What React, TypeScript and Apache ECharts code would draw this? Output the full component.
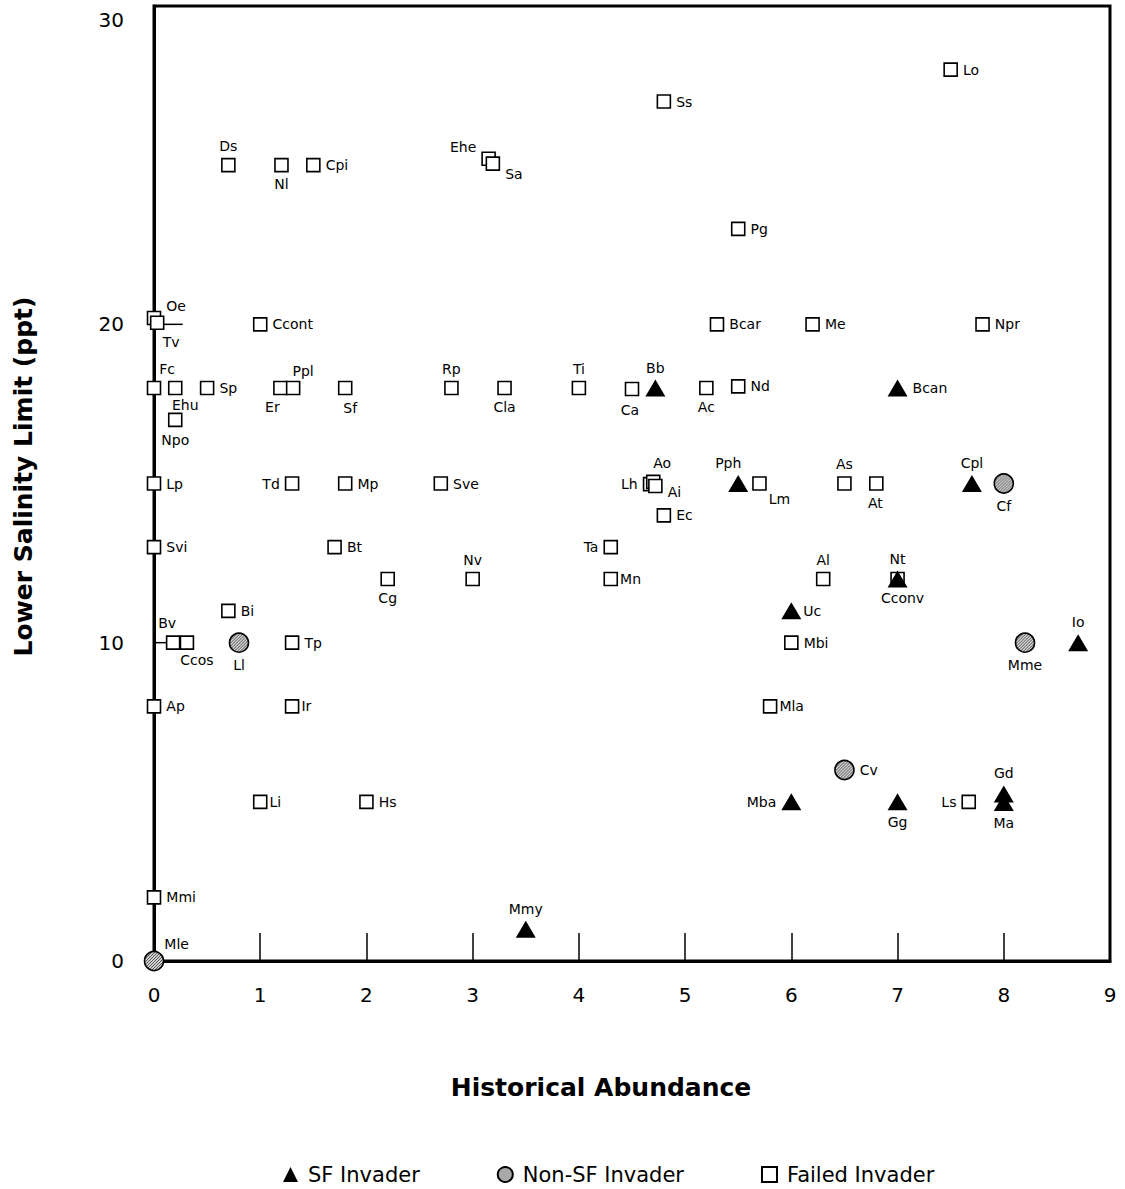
import React, { useEffect, useRef } from "react";
import * as echarts from "echarts";

// [name, historical abundance, lower salinity limit]
const sfInvaders: [string, number, number][] = [
  ["Bb", 4.72, 18],
  ["Bcan", 7.0, 18],
  ["Pph", 5.5, 15],
  ["Cpl", 7.7, 15],
  ["Nt", 7.0, 12],
  ["Uc", 6.0, 11],
  ["Io", 8.7, 10],
  ["Mba", 6.0, 5],
  ["Gg", 7.0, 5],
  ["Gd", 8.0, 5.25],
  ["Ma", 8.0, 4.98],
  ["Mmy", 3.5, 1.0],
];

const nonSfInvaders: [string, number, number][] = [
  ["Cf", 8.0, 15],
  ["Ll", 0.8, 10],
  ["Mme", 8.2, 10],
  ["Cv", 6.5, 6],
  ["Mle", 0, 0],
];

const failedInvaders: [string, number, number][] = [
  ["Lo", 7.5, 28],
  ["Ss", 4.8, 27],
  ["Ds", 0.7, 25],
  ["Nl", 1.2, 25],
  ["Cpi", 1.5, 25],
  ["Ehe", 3.15, 25.2],
  ["Sa", 3.19, 25.05],
  ["Pg", 5.5, 23],
  ["Oe", 0, 20.2],
  ["Tv", 0.03, 20.05],
  ["Ccont", 1.0, 20],
  ["Bcar", 5.3, 20],
  ["Me", 6.2, 20],
  ["Npr", 7.8, 20],
  ["Fc", 0, 18],
  ["Ehu", 0.2, 18],
  ["Sp", 0.5, 18],
  ["Er", 1.19, 18],
  ["Ppl", 1.31, 18],
  ["Sf", 1.8, 18],
  ["Rp", 2.8, 18],
  ["Cla", 3.3, 18],
  ["Ti", 4.0, 18],
  ["Ca", 4.5, 17.97],
  ["Ac", 5.2, 18],
  ["Nd", 5.5, 18.05],
  ["Npo", 0.2, 17],
  ["Lp", 0, 15],
  ["Td", 1.3, 15],
  ["Mp", 1.8, 15],
  ["Sve", 2.7, 15],
  ["Lh", 4.67, 14.98],
  ["Ao", 4.7, 15.05],
  ["Ai", 4.72, 14.92],
  ["Ec", 4.8, 14],
  ["Lm", 5.7, 15],
  ["As", 6.5, 15],
  ["At", 6.8, 15],
  ["Svi", 0, 13],
  ["Bt", 1.7, 13],
  ["Ta", 4.3, 13],
  ["Cg", 2.2, 12],
  ["Nv", 3.0, 12],
  ["Mn", 4.3, 12],
  ["Al", 6.3, 12],
  ["Cconv", 7.0, 12],
  ["Bi", 0.7, 11],
  ["Bv", 0.18, 10],
  ["Ccos", 0.31, 10],
  ["Tp", 1.3, 10],
  ["Mbi", 6.0, 10],
  ["Ap", 0, 8],
  ["Ir", 1.3, 8],
  ["Mla", 5.8, 8],
  ["Li", 1.0, 5],
  ["Hs", 2.0, 5],
  ["Ls", 7.67, 5],
  ["Mmi", 0, 2],
];

// short leader lines from the y axis
const leaderLines: [number, number][][] = [
  [[0, 20], [0.27, 20]],
  [[0, 10], [0.27, 10]],
];

const xTickRange = { min: 0, max: 9, interval: 1 };
const yTickRange = { min: 0, max: 30, interval: 10 };

// label placement per point: [position, dx, dy]
const labelPlacement: Record<string, [string, number, number]> = {
  Ds: ["top", 0, 0],
  Nl: ["bottom", 0, 0],
  Ehe: ["left", 0, -12],
  Sa: ["right", 0, 10],
  Oe: ["right", 0, -12],
  Tv: ["bottom", 14, 0],
  Fc: ["top", 13, 0],
  Ehu: ["bottom", 10, -2],
  Er: ["bottom", -8, 0],
  Ppl: ["top", 10, 2],
  Sf: ["bottom", 5, 1],
  Rp: ["top", 0, 0],
  Cla: ["bottom", 0, 0],
  Ti: ["top", 0, 0],
  Ca: ["bottom", -2, 2],
  Ac: ["bottom", 0, 0],
  Npo: ["bottom", 0, 1],
  Td: ["left", 0, 0],
  Lh: ["left", 0, 0],
  Ao: ["top", 9, 0],
  Ai: ["right", 0, 6],
  Lm: ["right", -3, 15],
  As: ["top", 0, 0],
  At: ["bottom", -1, 0],
  Ta: ["left", 0, 0],
  Cg: ["bottom", 0, 0],
  Nv: ["top", 0, 0],
  Mn: ["right", -3, 0],
  Al: ["top", 0, 0],
  Cconv: ["bottom", 5, 0],
  Bv: ["top", -6, 0],
  Ccos: ["bottom", 10, -2],
  Ir: ["right", -3, 0],
  Mla: ["right", -3, 0],
  Li: ["right", -3, 0],
  Ls: ["left", 0, 0],
  Bb: ["top", 0, 0],
  Pph: ["top", -10, 0],
  Cpl: ["top", 0, 0],
  Nt: ["top", 0, 0],
  Uc: ["right", -3, 0],
  Io: ["top", 0, 0],
  Mba: ["left", 0, 0],
  Gg: ["bottom", 0, 0],
  Gd: ["top", 0, 0],
  Ma: ["bottom", 0, 0],
  Mmy: ["top", 0, 0],
  Cf: ["bottom", 0, 0],
  Ll: ["bottom", 0, 0],
  Mme: ["bottom", 0, 0],
  Mle: ["right", -5, -17],
};

const FONT = "DejaVu Sans";

function toItems(rows: [string, number, number][]) {
  return rows.map(([name, x, y]) => {
    const p = labelPlacement[name] ?? ["right", 0, 0];
    return {
      name,
      value: [x, y],
      label: { position: p[0], offset: [p[1], p[2]] },
    };
  });
}

const baseLabel = {
  show: true,
  formatter: "{b}",
  color: "#000",
  fontSize: 14,
  fontFamily: FONT,
  distance: 5,
};

function makeStipple(): HTMLCanvasElement {
  const c = document.createElement("canvas");
  c.width = 3;
  c.height = 3;
  const ctx = c.getContext("2d")!;
  ctx.fillStyle = "#d0d0d0";
  ctx.fillRect(0, 0, 3, 3);
  ctx.fillStyle = "#555";
  ctx.fillRect(0, 0, 1, 1);
  ctx.fillRect(1, 2, 1, 1);
  ctx.fillRect(2, 1, 1, 1);
  return c;
}

export default function App() {
  const ref = useRef<HTMLDivElement>(null);
  useEffect(() => {
    if (!ref.current) return;
    const chart = echarts.init(ref.current, undefined, { renderer: "svg" });
    const stipple = makeStipple();
    const option: any = {
      animation: false,
      backgroundColor: "#fff",
      grid: {
        left: 154,
        right: 15,
        top: 6,
        bottom: 228,
        show: true,
        borderColor: "#000",
        borderWidth: 3,
        backgroundColor: "transparent",
      },
      legend: {
        top: 1159,
        left: 278,
        itemGap: 77,
        itemWidth: 15,
        itemHeight: 15,
        textStyle: { fontFamily: FONT, fontSize: 21, color: "#000", padding: [0, 0, 0, 5] },
        data: ["SF Invader", "Non-SF Invader", "Failed Invader"],
      },
      xAxis: {
        type: "value",
        ...xTickRange,
        name: "Historical Abundance",
        nameLocation: "middle",
        nameGap: 114,
        nameTextStyle: {
          fontFamily: FONT,
          fontSize: 25,
          fontWeight: "bold",
          color: "#000",
          padding: [0, 62, 0, 0],
        },
        splitLine: { show: false },
        axisLine: { show: true, lineStyle: { color: "#000", width: 3 } },
        axisTick: { show: true, inside: true, length: 28, lineStyle: { color: "#000", width: 1.5 } },
        axisLabel: { fontFamily: FONT, fontSize: 20, color: "#000", margin: 24 },
      },
      yAxis: {
        type: "value",
        ...yTickRange,
        name: "Lower Salinity Limit (ppt)",
        nameLocation: "middle",
        nameGap: 118,
        nameTextStyle: {
          fontFamily: FONT,
          fontSize: 25,
          fontWeight: "bold",
          color: "#000",
          padding: [0, 0, 0, 14],
        },
        splitLine: { show: false },
        axisLine: { show: true, lineStyle: { color: "#000", width: 3 } },
        axisTick: { show: false },
        axisLabel: {
          fontFamily: FONT,
          fontSize: 20,
          color: "#000",
          margin: 30,
          formatter: (v: number) => (v === 30 ? "{t|" + v + "}" : "{n|" + v + "}"),
          rich: {
            t: { fontFamily: FONT, fontSize: 20, color: "#000", padding: [28, 0, 0, 0] },
            n: { fontFamily: FONT, fontSize: 20, color: "#000" },
          },
        },
      },
      series: [
        ...leaderLines.map((seg) => ({
          type: "line",
          data: seg,
          symbol: "none",
          silent: true,
          lineStyle: { color: "#000", width: 1.5 },
          z: 1,
        })),
        {
          name: "Failed Invader",
          type: "scatter",
          symbol: "rect",
          symbolSize: 13,
          itemStyle: { color: "#fff", borderColor: "#000", borderWidth: 1.6, opacity: 1 },
          label: baseLabel,
          data: toItems(failedInvaders),
          z: 3,
        },
        {
          name: "SF Invader",
          type: "scatter",
          symbol: "triangle",
          symbolSize: [20, 17],
          itemStyle: { color: "#000", opacity: 1 },
          label: baseLabel,
          data: toItems(sfInvaders),
          z: 4,
        },
        {
          name: "Non-SF Invader",
          type: "scatter",
          symbol: "circle",
          symbolSize: 19,
          itemStyle: {
            color: { image: stipple, repeat: "repeat", scaleX: 0.105, scaleY: 0.105 },
            borderColor: "#000",
            borderWidth: 1.6,
            opacity: 1,
          },
          label: baseLabel,
          data: toItems(nonSfInvaders),
          z: 5,
        },
      ],
    };
    chart.setOption(option);
    return () => chart.dispose();
  }, []);
  return (
    <div
      ref={ref}
      style={{ position: "fixed", left: 0, top: 0, width: 1125, height: 1189, background: "#fff" }}
    />
  );
}
